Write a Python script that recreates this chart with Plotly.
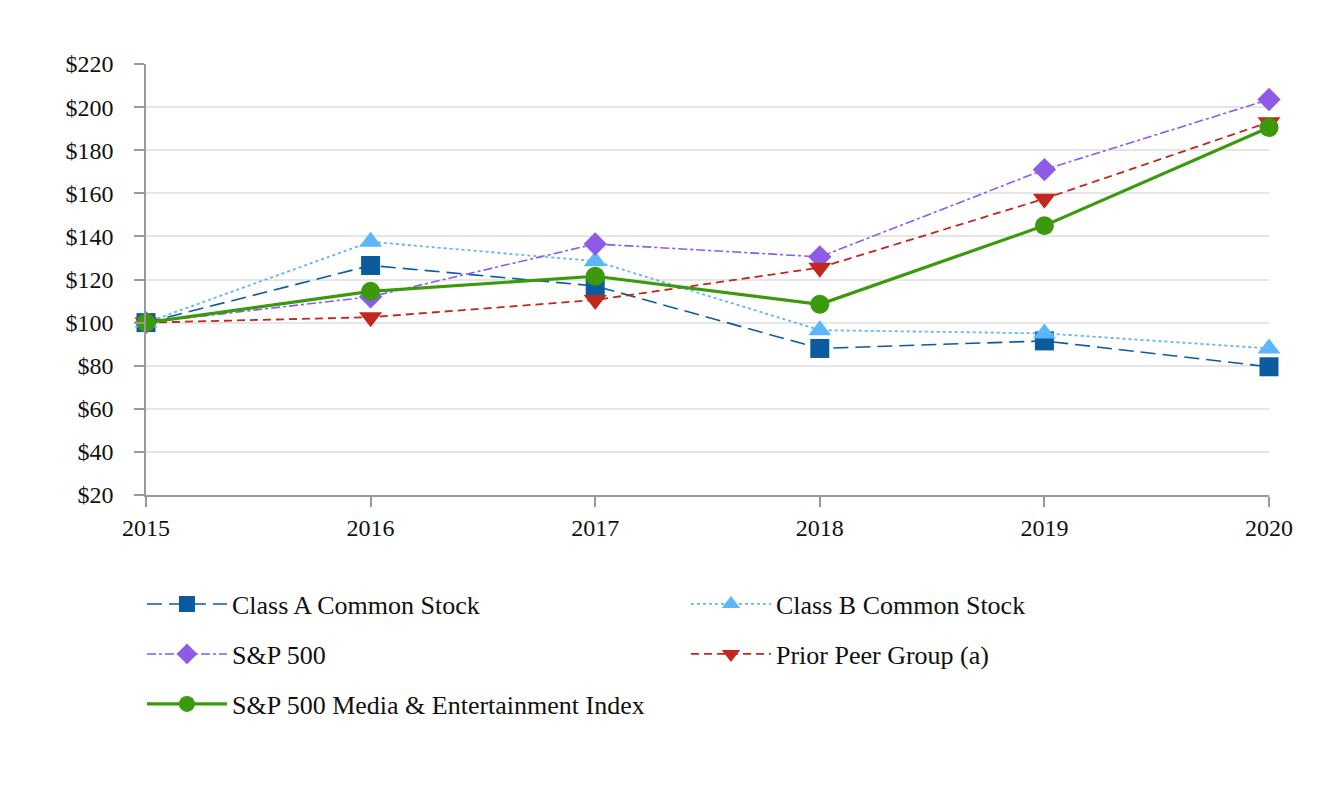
import plotly.graph_objects as go

years = [2015, 2016, 2017, 2018, 2019, 2020]
class_a = [100, 126.5, 117, 88, 91.5, 79.5]
class_b = [100, 137.5, 128.5, 96.5, 95, 88]
sp500 = [100, 112, 136.5, 130.5, 171, 203.5]
prior_peer = [100, 102.5, 110.5, 125.5, 157.5, 193]
media_ent = [100, 114.5, 121.5, 108.5, 145, 190.5]

names = ["Class A Common Stock", "Class B Common Stock", "S&P 500",
         "Prior Peer Group (a)", "S&P 500 Media & Entertainment Index"]
y_ticks = [20, 40, 60, 80, 100, 120, 140, 160, 180, 200, 220]

FONT = "Liberation Serif"

series = [
    (names[0], class_a, "#0B5B9E", "15px,7px", 1.6, "square", 19, "legend"),
    (names[1], class_b, "#5CB6F7", "dot", 1.8, "triangle-up", 20, "legend"),
    (names[2], sp500, "#8D5BE8", "dashdot", 1.6, "diamond", 18, "legend2"),
    (names[3], prior_peer, "#C0281D", "8px,5px", 1.8, "triangle-down", 20, "legend2"),
    (names[4], media_ent, "#3A9A0B", "solid", 3.2, "circle", 19, "legend3"),
]

fig = go.Figure()
for name, vals, col, dash, w, sym, sz, lg in series:
    fig.add_trace(go.Scatter(
        x=years, y=vals, name=name, mode="lines+markers",
        line=dict(color=col, dash=dash, width=w),
        marker=dict(symbol=sym, size=sz, color=col),
        cliponaxis=False, legend=lg, hoverinfo="skip",
    ))

legend_common = dict(orientation="h", xanchor="left", yanchor="middle",
                     font=dict(family=FONT, size=26, color="#111"),
                     entrywidth=449, entrywidthmode="pixels", itemwidth=80,
                     bgcolor="rgba(0,0,0,0)", tracegroupgap=0)

fig.update_layout(
    width=1332, height=800,
    margin=dict(l=138, r=71, t=56, b=313),
    plot_bgcolor="white", paper_bgcolor="white",
    font=dict(family=FONT, size=24, color="#111"),
    xaxis=dict(range=[2015, 2020], tickmode="array", tickvals=years,
               ticktext=[str(y) for y in years],
               showgrid=False, showline=True, linecolor="#999", linewidth=1.5,
               ticks="outside", tickcolor="#999", ticklen=10, tickwidth=1.5,
               tickfont=dict(family=FONT, size=24), zeroline=False),
    yaxis=dict(range=[20, 220], tickmode="array", tickvals=y_ticks,
               ticktext=["$" + str(v) for v in y_ticks],
               showgrid=True, gridcolor="#e6e6e6", gridwidth=1.5,
               showline=True, linecolor="#999", linewidth=1.5,
               ticks="outside", tickcolor="#999", ticklen=10, tickwidth=1.5,
               ticklabelstandoff=16,
               tickfont=dict(family=FONT, size=24), zeroline=False),
    legend=dict(x=-0.0036, y=-0.253, **legend_common),
    legend2=dict(x=-0.0036, y=-0.369, **legend_common),
    legend3=dict(x=-0.0036, y=-0.485, **legend_common),
    showlegend=True,
)

fig.write_html("out.html")
